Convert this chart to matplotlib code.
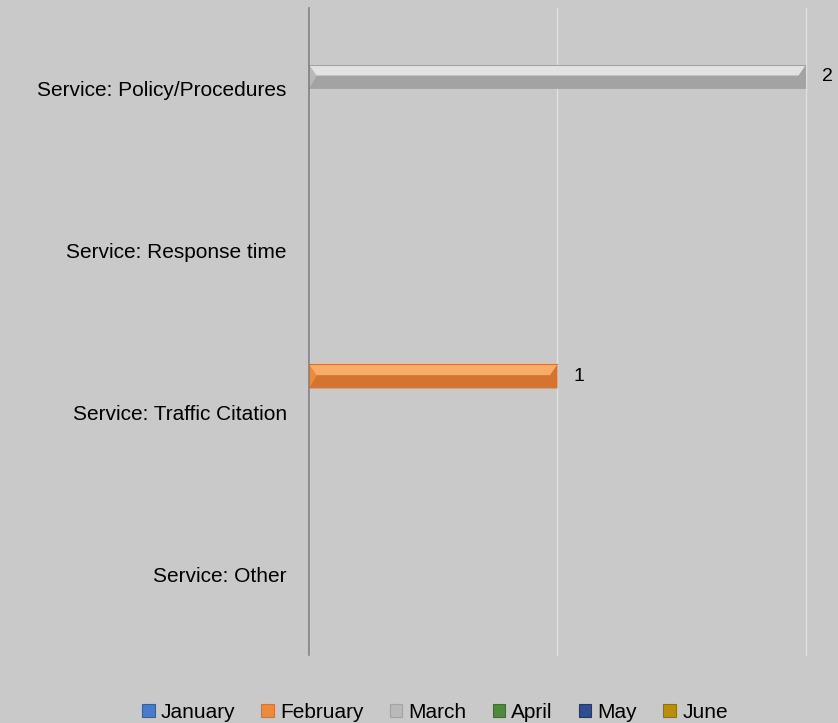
import matplotlib.pyplot as plt
import numpy as np
from matplotlib.patches import Polygon, Patch

categories = ['Service: Policy/Procedures', 'Service: Response time',
              'Service: Traffic Citation', 'Service: Other']
months = ['January', 'February', 'March', 'April', 'May', 'June']
january = [0, 0, 0, 0]
february = [0, 0, 1, 0]
march = [2, 0, 0, 0]
april = [0, 0, 0, 0]
may = [0, 0, 0, 0]
june = [0, 0, 0, 0]
series = [january, february, march, april, may, june]

# base, light top, dark bottom for each month
palette = {
    'January': ('#4a7bc8', '#7aa3e0', '#33609f'),
    'February': ('#ec8a3e', '#f7ad68', '#d57330'),
    'March': ('#b9b9b9', '#e2e2e2', '#a3a3a3'),
    'April': ('#4f8a3c', '#6fae58', '#3c6e2d'),
    'May': ('#2f4f92', '#4a6fb6', '#22396d'),
    'June': ('#b88e0e', '#d8ac2c', '#94710a'),
}
bg = '#c9c9c9'

plt.rcParams['font.family'] = ['Liberation Sans', 'DejaVu Sans']

fig = plt.figure(figsize=(8.38, 7.23), dpi=100, facecolor=bg)
ax = fig.add_axes([0.3687, 0.094, 0.5931, 0.895])
ax.set_facecolor(bg)

y = np.arange(len(categories))
h = 0.148
for j, (month, vals) in enumerate(zip(months, series)):
    base, light, dark = palette[month]
    bars = ax.barh(y + (j - 2.5) * h, vals, height=h, color=base,
                   edgecolor='none', label=month, zorder=3)
    for rect, v in zip(bars, vals):
        if v == 0:
            continue
        x0, x1 = rect.get_x(), rect.get_x() + rect.get_width()
        yt, yb = rect.get_y(), rect.get_y() + rect.get_height()
        ym = yt + 0.45 * (yb - yt)
        d = 0.03
        # bevel faces: light upper, dark lower, slanted ends
        ax.add_patch(Polygon([(x0, yt), (x1, yt), (x1 - d, ym), (x0 + d, ym)],
                             closed=True, color=light, lw=0, zorder=4))
        ax.add_patch(Polygon([(x0, yb), (x1, yb), (x1 - d, ym), (x0 + d, ym)],
                             closed=True, color=dark, lw=0, zorder=4))
        ax.add_patch(Polygon([(x0, yt), (x0 + d, ym), (x0, yb)],
                             closed=True, color=base, lw=0, zorder=5))
        ax.add_patch(Polygon([(x1, yt), (x1 - d, ym), (x1, yb)],
                             closed=True, color=dark, lw=0, zorder=5))
        ax.plot([x0, x1], [yt, yt], color=dark, lw=0.8, zorder=6)
        ax.text(x1 + 0.065, (yt + yb) / 2, f'{v}', ha='left', va='center',
                fontsize=14, color='black')

ax.set_xlim(0, 2)
ax.set_ylim(3.5, -0.5)
ax.set_yticks(y)
ax.set_yticklabels(categories, fontsize=15)
ax.tick_params(axis='y', length=0, pad=16)
ax.set_xticks([0, 1, 2])
ax.set_xticklabels([])
ax.tick_params(axis='x', length=0)
ax.grid(axis='x', color='#e0e0e0', lw=1.0, zorder=0)
for gl in ax.get_xgridlines():
    gl.set_clip_on(False)
for s in ['top', 'right', 'bottom']:
    ax.spines[s].set_visible(False)
ax.spines['left'].set_color('#7f7f7f')
ax.spines['left'].set_linewidth(1.2)
ax.spines['left'].set_zorder(7)

handles = [Patch(facecolor=palette[m][0], edgecolor=palette[m][2], lw=0.8)
           for m in months]
fig.legend(handles, months, loc='lower center', bbox_to_anchor=(0.519, -0.024),
           ncol=6, frameon=False, fontsize=15, handlelength=0.6,
           handleheight=0.6, handletextpad=0.3, columnspacing=1.25)

fig.savefig('out.png', dpi=100, facecolor=bg)
